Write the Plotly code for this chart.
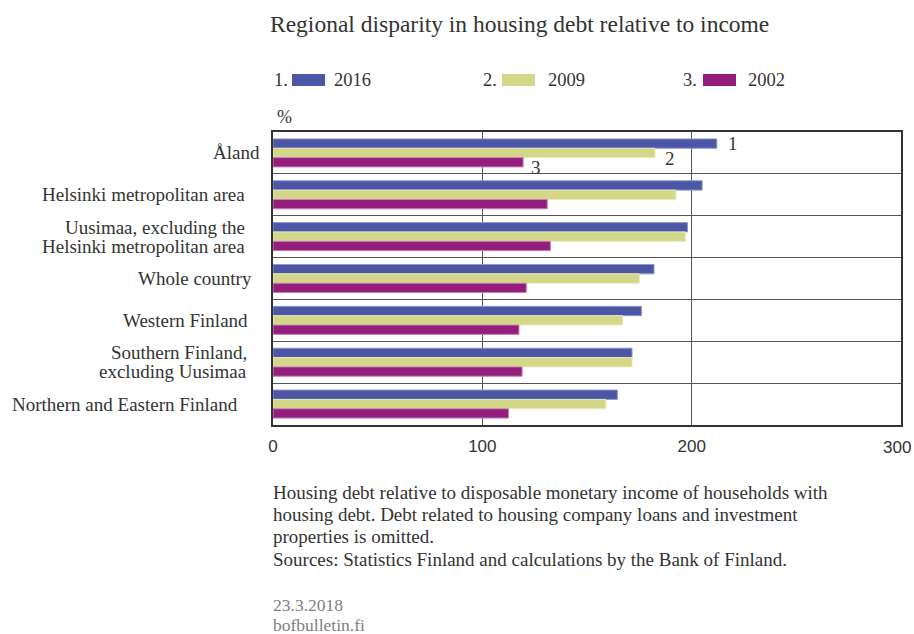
import plotly.graph_objects as go

categories = [
    "Åland",
    "Helsinki metropolitan area",
    "Uusimaa, excluding the<br>Helsinki metropolitan area",
    "Whole country",
    "Western Finland",
    "Southern Finland,<br>excluding Uusimaa",
    "Northern and Eastern Finland",
]
series_names = ["2016", "2009", "2002"]
values_2016 = [212, 205, 198, 182, 176, 171.5, 164.5]
values_2009 = [182.5, 192.5, 197, 175, 167, 171.5, 159]
values_2002 = [119.5, 131, 132.5, 121, 117.5, 119, 112.5]
x_ticks = [0, 100, 200, 300]

colors = ["#4b56a4", "#d4d688", "#931e7c"]
line_colors = ["#9096cc", "#e8e9bd", "#c883b8"]

FONT = "Liberation Serif"
TICKFONT = "Liberation Sans Narrow, Liberation Sans, sans-serif"
TXT = "#333333"

# page geometry (body margin removed via post_script)
PAGE_W, PAGE_H = 914, 634
W, H = PAGE_W, PAGE_H
PL, PR, PT, PB = 273, 901, 132, 425  # plot area in page px
pw, ph = PR - PL, PB - PT

def px_x(x):
    return (x - PL) / pw

def px_y(y):
    return (PB - y) / ph

fig = go.Figure()
for name, vals, c, lc in zip(series_names, [values_2016, values_2009, values_2002], colors, line_colors):
    fig.add_trace(go.Bar(
        y=categories, x=vals, name=name, orientation="h",
        marker=dict(color=c, line=dict(color=lc, width=1)),
        showlegend=False,
    ))

annotations = []
shapes = []

def text(t, x, y, size=19, color=TXT, xanchor="left", font=FONT):
    annotations.append(dict(text=t, x=px_x(x), y=px_y(y), xref="paper", yref="paper",
                            xanchor=xanchor, yanchor="middle", showarrow=False,
                            font=dict(family=font, size=size, color=color)))

# legend built from series
leg_x = [(272, 292, 325, 332), (481, 502, 535, 546), (681, 703, 736, 746)]
for i, (name, c) in enumerate(zip(series_names, colors)):
    nx, sx0, sx1, tx = leg_x[i]
    text(f"{i+1}.", nx, 80, size=18.5)
    shapes.append(dict(type="rect", xref="paper", yref="paper", x0=px_x(sx0), x1=px_x(sx1),
                       y0=px_y(86), y1=px_y(74), fillcolor=c, line=dict(width=0)))
    text(name, tx, 80, size=18.5)

# % unit label
text("%", 275, 117, size=18)

# category labels (right aligned, tight line spacing)
label_right = [262, 247, 247, 254, 250, 249, 240]
for cat, xr in zip(categories, label_right):
    lines = cat.split("<br>")
    n = len(lines)
    for j, ln in enumerate(lines):
        annotations.append(dict(text=ln, x=px_x(xr), y=cat, xref="paper", yref="y",
                                xanchor="right", yanchor="middle", showarrow=False,
                                yshift=(n - 1) * 9.5 - j * 19,
                                font=dict(family=FONT, size=19, color=TXT)))

# series number labels at Åland bars
for i, (vals, xs, ys) in enumerate(zip([values_2016, values_2009, values_2002], [9, 8, 6], [9, -6, -15])):
    annotations.append(dict(text=str(i + 1), x=vals[0], y=categories[0], xref="x", yref="y",
                            xanchor="left", yanchor="middle", xshift=xs, yshift=ys, showarrow=False,
                            font=dict(family=FONT, size=19, color=TXT)))

# footnote
foot = [
    "Housing debt relative to disposable monetary income of households with",
    "housing debt. Debt related to housing company loans and investment",
    "properties is omitted.",
    "Sources: Statistics Finland and calculations by the Bank of Finland.",
]
for k, ln in enumerate(foot):
    text(ln, 271, 492 + k * 22.4, size=19)
text("23.3.2018", 271, 605, size=17.5, color="#808080")
text("bofbulletin.fi", 271, 625, size=17.5, color="#808080")

# last tick label is drawn as an annotation nudged inside the page edge
tick_text = [str(v) for v in x_ticks]
tick_text[-1] = ""
annotations.append(dict(text=str(x_ticks[-1]), x=x_ticks[-1], y=px_y(447), xref="x", yref="paper",
                        xanchor="center", yanchor="middle", xshift=-4, showarrow=False,
                        font=dict(family=TICKFONT, size=17, color=TXT)))

n_cat = len(categories)
fig.update_layout(
    width=W, height=H,
    margin=dict(l=PL, r=PAGE_W - PR, t=PT, b=H - PB, autoexpand=False),
    paper_bgcolor="white", plot_bgcolor="white",
    barmode="group", bargap=0.33, bargroupgap=0,
    title=dict(text="Regional disparity in housing debt relative to income",
               x=270 / W, xanchor="left", y=1 - 24 / H, yanchor="middle",
               font=dict(family=FONT, size=23.5, color=TXT)),
    font=dict(family=FONT, size=19, color=TXT),
    annotations=annotations, shapes=shapes,
    xaxis=dict(range=[0, 300], autorange=False, automargin=False,
               tickvals=x_ticks, ticktext=tick_text, showgrid=True,
               gridcolor="#555555", gridwidth=1,
               showline=True, mirror=True, linecolor="#333333", linewidth=1.5,
               ticks="", ticklabelstandoff=5, ticklabeloverflow="allow", zeroline=False,
               tickfont=dict(family=TICKFONT, size=17, color=TXT)),
    yaxis=dict(type="category", range=[n_cat - 0.5, -0.5], autorange=False, automargin=False,
               tickson="boundaries",
               showgrid=True, gridcolor="#555555", gridwidth=1,
               showline=True, mirror=True, linecolor="#333333", linewidth=1.5,
               ticks="", showticklabels=False),
)

fig.write_html("out.html",
               config={"displayModeBar": False},
               post_script="document.body.style.margin='0px';document.body.style.overflow='hidden';")
